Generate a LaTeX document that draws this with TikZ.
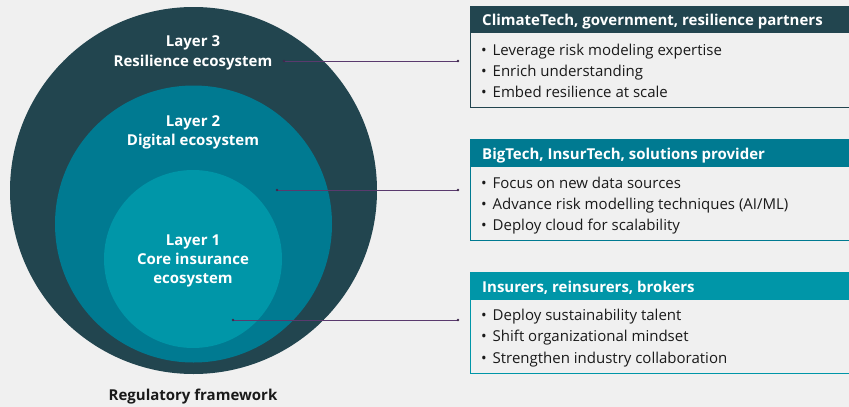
\documentclass[tikz,border=0pt]{standalone}
\usepackage{fontspec}
\setmainfont{Open Sans}
\definecolor{bg}{HTML}{F0F0F0}
\definecolor{darkc}{HTML}{22454F}
\definecolor{midc}{HTML}{007A91}
\definecolor{lightc}{HTML}{0096A8}
\definecolor{linec}{HTML}{5A3A6E}
\definecolor{txt}{HTML}{1A1A1A}
\newcommand{\bul}{\makebox[11.5pt][l]{\textbullet}}
\begin{document}
\begin{tikzpicture}[x=1pt,y=-1pt,
  layertxt/.style={text=white,font=\bfseries\fontsize{15}{19.5}\selectfont,align=center,inner sep=0pt,anchor=base},
  headtxt/.style={text=white,font=\bfseries\fontsize{15}{18}\selectfont,anchor=base west,inner sep=0pt},
  bultxt/.style={text=txt,font=\fontsize{15}{18}\selectfont,anchor=base west,inner sep=0pt},
  conn/.style={draw=linec,line width=0.9pt},
  enddot/.style={circle,fill=linec!70!black,inner sep=0pt,minimum size=2.6pt}]
\fill[bg] (0,0) rectangle (849,407);
\useasboundingbox (0,0) rectangle (849,407);
% circles
\fill[darkc] (193.5,190.5) circle (183.5);
\fill[midc] (193.5,224) circle (138.5);
\fill[lightc] (193,259) circle (89);
\node[layertxt] (l3a) at (193,46.7) {Layer 3};
\node[layertxt] (l3b) at (193,66.5) {Resilience ecosystem};
\node[layertxt] (l2a) at (193,126.5) {Layer 2};
\node[layertxt] (l2b) at (193,145) {Digital ecosystem};
\node[layertxt] (l1a) at (193,245) {Layer 1};
\node[layertxt] (l1b) at (193,264.3) {Core insurance};
\node[layertxt] (l1c) at (193,283) {ecosystem};
\node[text=txt,font=\bfseries\fontsize{15}{18}\selectfont,inner sep=0pt,anchor=base] (reg) at (193,400.5) {Regulatory framework};
% boxes
\foreach \yt/\yh/\yb/\c in {6/33/107/darkc,139/167/240/midc,272/300/373/lightc}{
  \fill[\c] (470,\yt) rectangle (852,\yh);
  \draw[\c,line width=1pt] (470.5,\yh) -- (470.5,\yb) -- (852,\yb);
}
\node[headtxt] (h1) at (482,25) {ClimateTech, government, resilience partners};
\node[headtxt] (h2) at (482,159) {BigTech, InsurTech, solutions provider};
\node[headtxt] (h3) at (482,292) {Insurers, reinsurers, brokers};
\node[bultxt] (b1a) at (481,55) {\bul Leverage risk modeling expertise};
\node[bultxt] (b1b) at (481,76) {\bul Enrich understanding};
\node[bultxt] (b1c) at (481,97) {\bul Embed resilience at scale};
\node[bultxt] (b2a) at (481,188) {\bul Focus on new data sources};
\node[bultxt] (b2b) at (481,209) {\bul Advance risk modelling techniques (AI/ML)};
\node[bultxt] (b2c) at (481,230.5) {\bul Deploy cloud for scalability};
\node[bultxt] (b3a) at (481,320) {\bul Deploy sustainability talent};
\node[bultxt] (b3b) at (481,341) {\bul Shift organizational mindset};
\node[bultxt] (b3c) at (481,363) {\bul Strengthen industry collaboration};
% connectors
\coordinate (s1) at (284,61); \coordinate (e1) at (458,61);
\coordinate (s2) at (277,190); \coordinate (e2) at (458,190);
\coordinate (s3) at (233,320); \coordinate (e3) at (458,320);
\foreach \i in {1,2,3}{
  \draw[conn] (s\i) -- (e\i);
  \node[enddot] at (s\i) {};
  \node[enddot] at (e\i) {};
}
\end{tikzpicture}
\end{document}
